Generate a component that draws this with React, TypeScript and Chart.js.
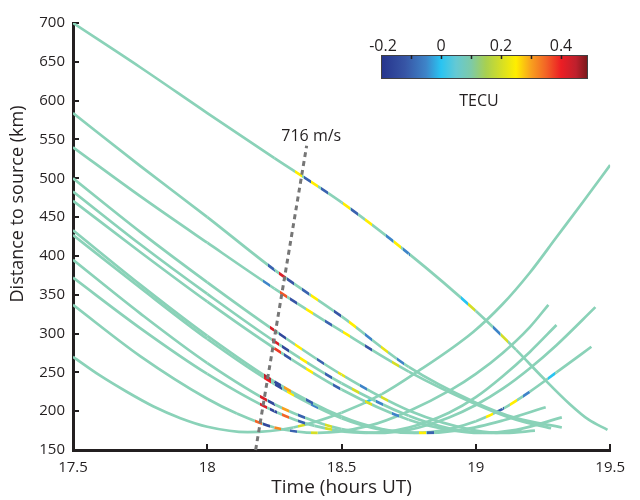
import React, { useEffect, useRef } from 'react';
import { Chart, registerables } from 'chart.js';

Chart.register(...registerables);

// ---------- axes ----------
const timeTicks = [17.5, 18, 18.5, 19, 19.5];
const distanceTicks = [150, 200, 250, 300, 350, 400, 450, 500, 550, 600, 650, 700];
const xTitle = 'Time (hours UT)';
const yTitle = 'Distance to source (km)';

// ---------- tracks (time in hours UT, distance in km) ----------
const trackA_t = [17.5, 17.75, 18.0, 18.25, 18.5, 18.75, 19.0, 19.15, 19.25, 19.35, 19.42, 19.49];
const trackA_d = [700, 643, 584, 526, 469, 403, 329, 279, 243, 209, 189, 176];
const spotA_t = [18.34, 18.372, 18.40, 18.438, 18.518, 18.547, 18.60, 18.68, 18.71, 18.74, 18.956, 18.985, 19.077, 19.106];
const spotA_v = [0.25, -0.1, 0.25, -0.1, 0.25, -0.1, 0.25, -0.05, 0.25, -0.05, 0.0, 0.2, -0.05, 0.2];

const trackC_t = [17.5, 17.75, 18.0, 18.25, 18.5, 18.75, 19.0, 19.15, 19.32];
const trackC_d = [584, 516, 450, 382, 322, 257, 211, 191, 179];
const spotC_t = [18.24, 18.28, 18.31, 18.365, 18.40, 18.485, 18.54, 18.6, 18.66, 18.72];
const spotC_v = [-0.1, 0.42, -0.12, -0.1, 0.25, -0.12, 0.25, -0.05, 0.22, -0.05];

const trackB_t = [17.5, 17.75, 18.0, 18.25, 18.5, 18.75, 19.0, 19.15, 19.28];
const trackB_d = [540, 477, 417, 358, 303, 251, 209, 189, 178];
const spotB_t = [18.22, 18.285, 18.32, 18.38, 18.45, 18.52, 18.6, 18.7];
const spotB_v = [-0.05, 0.36, -0.12, 0.25, -0.1, 0.25, -0.12, 0.2];

const trackD_t = [17.5, 17.75, 18.0, 18.25, 18.5, 18.75, 19.0, 19.11, 19.22];
const trackD_d = [500, 431, 366, 304, 247, 201, 175, 172, 175];
const spotD_t = [18.248, 18.28, 18.34, 18.42, 18.5, 18.58, 18.66];
const spotD_v = [0.42, -0.15, 0.25, -0.1, 0.22, -0.05, 0.2];

const trackE_t = [17.5, 17.75, 18.0, 18.25, 18.5, 18.75, 18.9, 19.06, 19.17];
const trackE_d = [483, 415, 351, 290, 236, 194, 178, 172, 175];
const spotE_t = [18.255, 18.29, 18.36, 18.45, 18.55, 18.64];
const spotE_v = [0.42, -0.15, 0.25, -0.1, 0.2, -0.05];

const trackF_t = [17.5, 17.75, 18.0, 18.25, 18.5, 18.75, 18.9, 19.02, 19.15, 19.32];
const trackF_d = [471, 405, 341, 281, 228, 189, 176, 172, 176, 192];
const spotF_t = [18.26, 18.3, 18.38, 18.48, 18.6, 18.7];
const spotF_v = [0.38, -0.12, 0.25, -0.1, 0.2, -0.05];

const trackG_t = [17.5, 17.75, 18.0, 18.25, 18.5, 18.65, 18.8, 18.95, 19.1, 19.26];
const trackG_d = [433, 363, 297, 238, 193, 177, 172, 176, 188, 205];
const spotG_t = [18.226, 18.26, 18.3, 18.38, 18.8, 18.83];
const spotG_v = [0.45, -0.15, 0.3, -0.1, 0.25, -0.1];

const trackH_t = [17.5, 17.75, 18.0, 18.25, 18.5, 18.65, 18.77, 18.9, 19.0, 19.1, 19.2, 19.3, 19.43];
const trackH_d = [427, 359, 293, 235, 191, 176, 172, 177, 187, 203, 225, 250, 283];
const spotH_t = [18.226, 18.265, 18.31, 18.4, 19.05, 19.09, 19.14, 19.19, 19.28];
const spotH_v = [0.4, -0.15, 0.25, -0.05, 0.25, -0.1, 0.25, -0.05, 0.0];

const trackI_t = [17.5, 17.75, 18.0, 18.25, 18.4, 18.5, 18.63, 18.75, 18.9, 19.0, 19.1, 19.2, 19.3, 19.445];
const trackI_d = [395, 326, 262, 209, 187, 177, 172, 176, 192, 208, 229, 255, 285, 334];
const spotI_t = [18.208, 18.24, 18.29, 18.35, 18.45];
const spotI_v = [0.42, -0.15, 0.3, -0.1, 0.2];

const trackJ_t = [17.5, 17.75, 18.0, 18.25, 18.4, 18.59, 18.75, 18.9, 19.0, 19.1, 19.2, 19.3];
const trackJ_d = [372, 307, 248, 200, 181, 172, 179, 198, 218, 245, 276, 311];
const spotJ_t = [18.21, 18.245, 18.29, 18.35, 18.45];
const spotJ_v = [0.42, -0.15, 0.35, -0.1, 0.2];

const trackK_t = [17.5, 17.75, 18.0, 18.11, 18.25, 18.41, 18.6, 18.75, 18.91, 19.0, 19.1, 19.2, 19.27];
const trackK_d = [337, 271, 216, 197, 179, 172, 181, 200, 228, 248, 275, 308, 337];
const spotK_t = [18.19, 18.22, 18.26, 18.32, 18.4];
const spotK_v = [0.35, -0.15, 0.32, -0.1, 0.2];

const trackM_t = [17.5, 17.6, 17.7, 17.8, 17.9, 18.0, 18.15, 18.32, 18.5, 18.65, 18.77, 18.99, 19.1, 19.2, 19.3, 19.4, 19.5];
const trackM_d = [270, 246, 225, 206, 191, 180, 173, 179, 198, 222, 248, 302, 338, 378, 424, 470, 517];
const spotM_t = [18.35, 18.6];
const spotM_v = [0.2, 0.0];

// wave front (dashed line) and its label
const waveFront_t = [18.18, 18.37];
const waveFront_d = [150, 542];
const waveLabel = '716 m/s';
const waveLabel_t = 18.387;
const waveLabel_d = 554;

// colour bar
const tecMin = -0.2;
const tecMax = 0.49;
const colorbarLabels = [-0.2, 0, 0.2, 0.4];
const colorbarMarks = [-0.1, 0, 0.1, 0.2, 0.3, 0.4];
const colorbarTitle = 'TECU';

// ---------- styling ----------
const TEXT = '#231f20';
const FONT = "'Open Sans', 'Noto Sans', sans-serif";
const BASE = '#8ad2b8';

const cmap: [number, number[]][] = [
  [-0.2, [38, 52, 140]],
  [-0.12, [55, 85, 165]],
  [-0.05, [62, 132, 200]],
  [0.0, [41, 196, 242]],
  [0.05, [100, 201, 212]],
  [0.1, [125, 202, 168]],
  [0.15, [168, 208, 80]],
  [0.2, [212, 222, 38]],
  [0.25, [255, 238, 0]],
  [0.3, [248, 160, 30]],
  [0.35, [242, 100, 38]],
  [0.4, [236, 30, 36]],
  [0.45, [190, 32, 45]],
  [0.49, [118, 24, 26]],
];

function tecColor(v: number): string {
  if (v <= cmap[0][0]) return `rgb(${cmap[0][1].join(',')})`;
  for (let i = 1; i < cmap.length; i++) {
    if (v <= cmap[i][0]) {
      const [a, ca] = cmap[i - 1];
      const [b, cb] = cmap[i];
      const f = (v - a) / (b - a);
      const c = ca.map((x, k) => Math.round(x + (cb[k] - x) * f));
      return `rgb(${c.join(',')})`;
    }
  }
  return `rgb(${cmap[cmap.length - 1][1].join(',')})`;
}

function segColor(ctx: any, st: number[], sv: number[]) {
  const chart = ctx.chart;
  const x0 = ctx.p0.x;
  const x1 = ctx.p1.x;
  const span = x1 - x0;
  if (!chart || !(span > 0)) return BASE;
  const hw = 3.5;
  const xs = chart.scales.x;
  const inside: [number, number][] = [];
  for (let i = 0; i < st.length; i++) {
    const px = xs.getPixelForValue(st[i]);
    if (px + hw > x0 && px - hw < x1) inside.push([px, sv[i]]);
  }
  if (!inside.length) return BASE;
  inside.sort((a, b) => a[0] - b[0]);
  const g = chart.ctx.createLinearGradient(x0, 0, x1, 0);
  g.addColorStop(0, BASE);
  let last = 0;
  for (const [px, v] of inside) {
    const f0 = Math.min(1, Math.max(last, (px - hw - x0) / span));
    const f1 = Math.min(1, Math.max(f0, (px + hw - x0) / span));
    if (f1 <= f0) continue;
    const c = tecColor(v);
    g.addColorStop(f0, BASE);
    g.addColorStop(f0, c);
    g.addColorStop(f1, c);
    g.addColorStop(f1, BASE);
    last = f1;
  }
  g.addColorStop(1, BASE);
  return g;
}

const tracks = [
  [trackA_t, trackA_d, spotA_t, spotA_v],
  [trackC_t, trackC_d, spotC_t, spotC_v],
  [trackB_t, trackB_d, spotB_t, spotB_v],
  [trackD_t, trackD_d, spotD_t, spotD_v],
  [trackE_t, trackE_d, spotE_t, spotE_v],
  [trackF_t, trackF_d, spotF_t, spotF_v],
  [trackG_t, trackG_d, spotG_t, spotG_v],
  [trackH_t, trackH_d, spotH_t, spotH_v],
  [trackI_t, trackI_d, spotI_t, spotI_v],
  [trackJ_t, trackJ_d, spotJ_t, spotJ_v],
  [trackK_t, trackK_d, spotK_t, spotK_v],
  [trackM_t, trackM_d, spotM_t, spotM_v],
];

const overlayPlugin = {
  id: 'overlay',
  afterDraw(chart: any) {
    const c = chart.ctx;
    const xs = chart.scales.x;
    const ys = chart.scales.y;
    c.save();
    // wave label
    c.fillStyle = TEXT;
    c.font = `16px ${FONT}`;
    c.textAlign = 'center';
    c.textBaseline = 'middle';
    c.fillText(waveLabel, xs.getPixelForValue(waveLabel_t), ys.getPixelForValue(waveLabel_d));

    // y-axis title
    c.save();
    c.translate(18, 204);
    c.rotate(-Math.PI / 2);
    c.font = `18px ${FONT}`;
    c.fillText(yTitle, 0, 0);
    c.restore();

    // colour bar
    const bx = 381, by = 55, bw = 207, bh = 24;
    const px = (v: number) => bx + ((v - tecMin) / (tecMax - tecMin)) * bw;
    const g = c.createLinearGradient(bx, 0, bx + bw, 0);
    for (const [v] of cmap) {
      g.addColorStop((v - tecMin) / (tecMax - tecMin), tecColor(v));
    }
    c.fillStyle = g;
    c.fillRect(bx, by, bw, bh);
    c.strokeStyle = '#414042';
    c.lineWidth = 1;
    c.strokeRect(bx + 0.5, by + 0.5, bw - 1, bh - 1);
    c.strokeStyle = TEXT;
    c.lineWidth = 1.5;
    for (const v of colorbarMarks) {
      const x = Math.round(px(v)) + 0.5;
      c.beginPath();
      c.moveTo(x, by);
      c.lineTo(x, by + 4);
      c.stroke();
    }
    c.fillStyle = TEXT;
    c.font = `16px ${FONT}`;
    c.textBaseline = 'middle';
    c.textAlign = 'center';
    for (const v of colorbarLabels) {
      c.fillText(String(v), px(v) + (v < 0 ? 2 : 0), 46);
    }
    c.fillText(colorbarTitle, 479, 101);
    c.restore();
  },
};

export default function App() {
  const ref = useRef<HTMLCanvasElement | null>(null);
  useEffect(() => {
    if (!ref.current) return;
    const datasets: any[] = [
      {
        data: waveFront_t.map((x, i) => ({ x, y: waveFront_d[i] })),
        borderColor: '#767676',
        borderWidth: 3,
        borderDash: [5, 4],
        pointRadius: 0,
        tension: 0,
        clip: false,
      },
    ];
    for (const [t, d, st, sv] of tracks) {
      datasets.push({
        data: t.map((x, i) => ({ x, y: d[i] })),
        borderColor: BASE,
        borderWidth: 2.7,
        pointRadius: 0,
        tension: 0.4,
        cubicInterpolationMode: 'monotone',
        segment: { borderColor: (ctx: any) => segColor(ctx, st, sv) },
      });
    }
    const chart = new Chart(ref.current, {
      type: 'line',
      data: { datasets },
      plugins: [overlayPlugin],
      options: {
        animation: false,
        responsive: false,
        events: [],
        layout: { padding: { top: 17, right: 19, left: 0, bottom: 0 } },
        plugins: { legend: { display: false }, tooltip: { enabled: false } },
        scales: {
          x: {
            type: 'linear',
            min: 17.5,
            max: 19.5,
            afterBuildTicks: (s: any) => {
              s.ticks = timeTicks.map((v) => ({ value: v }));
            },
            afterFit: (s: any) => {
              s.height = 50;
            },
            ticks: {
              color: TEXT,
              font: { family: FONT, size: 15 },
              padding: 15,
              maxRotation: 0,
              autoSkip: false,
              callback: (v: any) => String(v),
            },
            grid: { display: true, drawOnChartArea: false, drawTicks: true, tickLength: -6, color: TEXT, lineWidth: 2 },
            border: { display: true, color: TEXT, width: 3 },
            title: {
              display: true,
              text: xTitle,
              color: TEXT,
              font: { family: FONT, size: 19 },
              padding: { top: 0, bottom: 1 },
            },
          },
          y: {
            type: 'linear',
            min: 150,
            max: 700,
            afterBuildTicks: (s: any) => {
              s.ticks = distanceTicks.map((v) => ({ value: v }));
            },
            afterFit: (s: any) => {
              s.width = 73;
            },
            ticks: {
              color: TEXT,
              font: { family: FONT, size: 15 },
              padding: 14,
              autoSkip: false,
              callback: (v: any) => String(v),
            },
            grid: { display: true, drawOnChartArea: false, drawTicks: true, tickLength: -6, color: TEXT, lineWidth: 2 },
            border: { display: true, color: TEXT, width: 3 },
            title: { display: false },
          },
        },
      } as any,
    });
    return () => chart.destroy();
  }, []);
  return (
    <div style={{ position: 'fixed', left: 0, top: 0, width: 640, height: 500, background: '#fff' }}>
      <canvas ref={ref} width={640} height={500} style={{ display: 'block', width: 640, height: 500 }} />
    </div>
  );
}
